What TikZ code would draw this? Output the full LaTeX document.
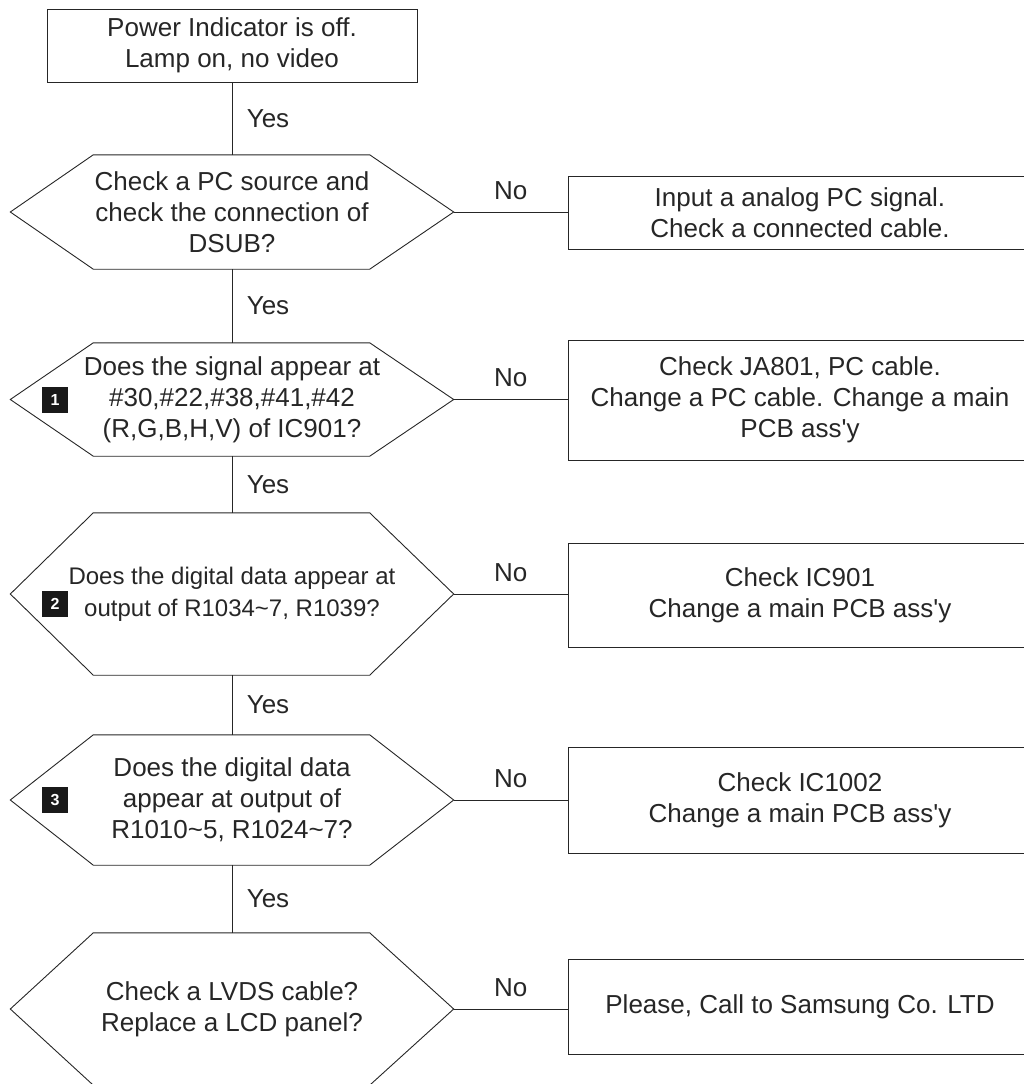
\documentclass[tikz,border=0pt]{standalone}
\usepackage{fontspec}
\setmainfont{Liberation Sans}
\usepackage{tikz}
\usetikzlibrary{positioning}

\tikzset{
  flowline/.style={draw=black!85, line width=.9pt},
  startbox/.style={rectangle, flowline, minimum width=370pt, minimum height=73pt, inner sep=0pt, align=center},
  actbox/.style={rectangle, flowline, minimum width=464pt, minimum height=#1, inner sep=0pt, align=center},
  hexnode/.style={rectangle, minimum width=443pt, minimum height=#1, inner sep=0pt, align=center},
  badge/.style={rectangle, fill=black!90, text=white, minimum size=26pt, inner sep=0pt, font=\fontsize{16}{16}\selectfont\bfseries},
  yeslabel/.style={midway, right=11pt},
  nolabel/.style={midway, above=9pt, inner sep=3pt}
}

% hexagon outline round a named node
\newcommand{\hexframe}[1]{%
  \draw[flowline] (#1.west) -- ([xshift=83pt]#1.north west) -- ([xshift=-84pt]#1.north east)
    -- (#1.east) -- ([xshift=-84pt]#1.south east) -- ([xshift=83pt]#1.south west) -- cycle;}

\begin{document}
\begin{tikzpicture}[x=1pt, y=-1pt, text=black!85, font=\fontsize{26}{31}\selectfont]
  \useasboundingbox (0,0) rectangle (1023,1084);

  \node[startbox] (start) at (232,45.5) {Power Indicator is off.\\Lamp on, no video};

  % decisions
  \node[hexnode=114pt] (dsub)  at (232,212)   {Check a PC source and\\check the connection of\\DSUB?};
  \node[hexnode=113pt] (sig)   at (232,399.5) {Does the signal appear at\\\#30,\#22,\#38,\#41,\#42\\(R,G,B,H,V) of IC901?};
  \node[hexnode=162pt, font=\fontsize{24}{32}\selectfont] (dig1) at (232,594) {Does the digital data appear at\\output of R1034\textasciitilde 7, R1039?};
  \node[hexnode=130pt] (dig2)  at (232,800)   {Does the digital data\\appear at output of\\R1010\textasciitilde 5, R1024\textasciitilde 7?};
  \node[hexnode=152pt] (lvds)  at (232,1009)  {Check a LVDS cable?\\Replace a LCD panel?};
  \hexframe{dsub}
  \hexframe{sig}
  \hexframe{dig1}
  \hexframe{dig2}
  \hexframe{lvds}

  \node[badge] (b1) at (55,400) {1};
  \node[badge] (b2) at (55,604) {2};
  \node[badge] (b3) at (55,800) {3};

  % actions
  \node[actbox=73pt]  (act1) at (800,212.5) {Input a analog PC signal.\\Check a connected cable.};
  \node[actbox=120pt] (act2) at (800,400)   {Check JA801, PC cable.\\Change a PC cable. Change a main\\PCB ass\textquotesingle y};
  \node[actbox=104pt] (act3) at (800,595)   {Check IC901\\Change a main PCB ass\textquotesingle y};
  \node[actbox=106pt] (act4) at (800,800)   {Check IC1002\\Change a main PCB ass\textquotesingle y};
  \node[actbox=95pt]  (act5) at (800,1006.5) {Please, Call to Samsung Co. LTD};

  % yes path
  \draw[flowline] (start.south) -- node[yeslabel] {Yes} (dsub.north);
  \draw[flowline] (dsub.south) -- node[yeslabel] {Yes} (sig.north);
  \draw[flowline] (sig.south) -- node[yeslabel] {Yes} (dig1.north);
  \draw[flowline] (dig1.south) -- node[yeslabel] {Yes} (dig2.north);
  \draw[flowline] (dig2.south) -- node[yeslabel] {Yes} (lvds.north);

  % no path
  \draw[flowline] (dsub.east) -- node[nolabel] {No} (dsub.east -| act1.west);
  \draw[flowline] (sig.east) -- node[nolabel] {No} (sig.east -| act2.west);
  \draw[flowline] (dig1.east) -- node[nolabel] {No} (dig1.east -| act3.west);
  \draw[flowline] (dig2.east) -- node[nolabel] {No} (dig2.east -| act4.west);
  \draw[flowline] (lvds.east) -- node[nolabel] {No} (lvds.east -| act5.west);
\end{tikzpicture}
\end{document}
